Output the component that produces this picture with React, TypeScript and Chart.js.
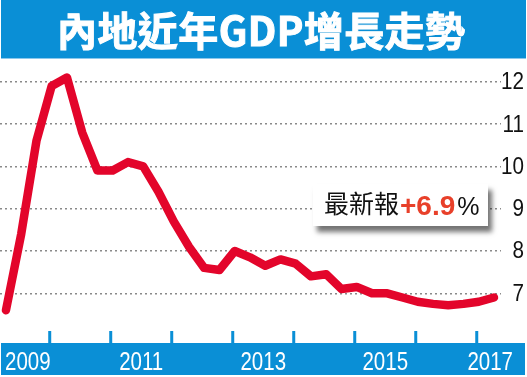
import { useEffect, useRef } from 'react';
import { Chart, registerables } from 'chart.js';

Chart.register(...registerables);

const TITLE = '內地近年GDP增長走勢';
const quarters = [
  '2009Q1', '2009Q2', '2009Q3', '2009Q4',
  '2010Q1', '2010Q2', '2010Q3', '2010Q4',
  '2011Q1', '2011Q2', '2011Q3', '2011Q4',
  '2012Q1', '2012Q2', '2012Q3', '2012Q4',
  '2013Q1', '2013Q2', '2013Q3', '2013Q4',
  '2014Q1', '2014Q2', '2014Q3', '2014Q4',
  '2015Q1', '2015Q2', '2015Q3', '2015Q4',
  '2016Q1', '2016Q2', '2016Q3', '2016Q4',
  '2017Q1',
];
const growth = [
  6.6, 8.4, 10.6, 11.9,
  12.1, 10.8, 9.9, 9.9,
  10.1, 10.0, 9.4, 8.7,
  8.1, 7.6, 7.55, 8.0,
  7.85, 7.65, 7.8, 7.7,
  7.4, 7.45, 7.1, 7.15,
  7.0, 7.0, 6.9, 6.8,
  6.75, 6.72, 6.75, 6.8,
  6.9,
];
const yTicks = [7, 8, 9, 10, 11, 12];
const yearTickYears = ['2009', '2010', '2011', '2012', '2013', '2014', '2015', '2016'];
const yearLabels = ['2009', '2011', '2013', '2015', '2017'];
const noteLabel = '最新報';
const noteValue = '+6.9';
const noteUnit = '%';

const BLUE = '#0a8fd6';
const RED = '#e3052b';

function drawScaledText(ctx: CanvasRenderingContext2D, text: string, x: number, y: number, sx: number, align: CanvasTextAlign) {
  ctx.save();
  ctx.translate(x, y);
  ctx.scale(sx, 1);
  ctx.textAlign = align;
  ctx.fillText(text, 0, 0);
  ctx.restore();
}

const decorPlugin = {
  id: 'decor',
  beforeDraw(chart: any) {
    const ctx: CanvasRenderingContext2D = chart.ctx;
    const W = chart.width;
    ctx.save();
    ctx.fillStyle = '#ffffff';
    ctx.fillRect(0, 0, W, chart.height);
    // title band
    ctx.fillStyle = BLUE;
    ctx.fillRect(1, 0, W - 2, 58);
    ctx.fillStyle = '#8cc8ec';
    ctx.fillRect(1, 58, W - 2, 1);
    // title text, spread to target width
    ctx.font = 'bold 40px "Noto Sans CJK TC"';
    ctx.fillStyle = '#ffffff';
    ctx.strokeStyle = '#ffffff';
    ctx.lineWidth = 1;
    ctx.textBaseline = 'middle';
    ctx.textAlign = 'left';
    const chars = Array.from(TITLE);
    const widths = chars.map((c) => ctx.measureText(c).width);
    const natural = widths.reduce((a, b) => a + b, 0);
    const target = 408;
    const gap = (target - natural) / (chars.length - 1);
    let cx = 261 - target / 2;
    chars.forEach((c, i) => {
      ctx.fillText(c, cx, 31);
      ctx.strokeText(c, cx, 31);
      cx += widths[i] + gap;
    });
    ctx.restore();
  },
  afterDatasetsDraw(chart: any) {
    const ctx: CanvasRenderingContext2D = chart.ctx;
    const xs = chart.scales.x;
    const ys = chart.scales.y;
    const W = chart.width;
    ctx.save();
    // bottom band
    ctx.fillStyle = BLUE;
    ctx.fillRect(1, 343, W - 3, 32);
    // year ticks (at each year's last quarter)
    yearTickYears.forEach((yr) => {
      const idx = quarters.indexOf(yr + 'Q4') - 0.13;
      const px = xs.getPixelForValue(idx);
      ctx.fillRect(px - 1.5, 331, 3, 12);
    });
    // year labels, centred on the year span
    ctx.fillStyle = '#ffffff';
    ctx.font = '25px "Liberation Sans"';
    ctx.textBaseline = 'alphabetic';
    const sx = 0.82;
    yearLabels.forEach((yr) => {
      const idx = quarters.indexOf(yr + 'Q4');
      const centerIdx = (idx >= 0 ? idx : quarters.indexOf(yr + 'Q1') + 3) - 0.13 - 2;
      let px = xs.getPixelForValue(centerIdx);
      const half = (ctx.measureText(yr).width * sx) / 2;
      px = Math.max(5 + half, Math.min(513 - half, px));
      drawScaledText(ctx, yr, px, 370, sx, 'center');
    });
    // y labels
    ctx.fillStyle = '#111111';
    ctx.font = '24px "Liberation Sans"';
    yTicks.forEach((v) => {
      const py = ys.getPixelForValue(v);
      drawScaledText(ctx, String(v), 524, py + 7.5, 0.86, 'right');
    });
    // annotation box
    ctx.save();
    ctx.shadowColor = 'rgba(0,0,0,0.55)';
    ctx.shadowBlur = 5;
    ctx.shadowOffsetX = 4;
    ctx.shadowOffsetY = 6;
    ctx.fillStyle = '#ffffff';
    ctx.fillRect(313, 184, 175, 42);
    ctx.restore();
    ctx.textAlign = 'left';
    ctx.textBaseline = 'alphabetic';
    ctx.fillStyle = '#111111';
    ctx.font = '25px "Noto Sans CJK TC"';
    ctx.fillText(noteLabel, 324, 213);
    ctx.fillStyle = '#e8402a';
    ctx.font = 'bold 28px "Liberation Sans"';
    ctx.fillText(noteValue, 400, 215);
    const vw = ctx.measureText(noteValue).width;
    ctx.fillStyle = '#111111';
    ctx.font = '25px "Liberation Sans"';
    ctx.fillText(noteUnit, 400 + vw + 2, 215);
    ctx.restore();
  },
};

export default function App() {
  const ref = useRef<HTMLCanvasElement | null>(null);
  useEffect(() => {
    if (!ref.current) return;
    const chart = new Chart(ref.current, {
      type: 'line',
      data: {
        datasets: [
          {
            data: growth.map((v, i) => ({ x: i, y: v })),
            borderColor: RED,
            borderWidth: 8.5,
            pointRadius: 0,
            borderJoinStyle: 'round',
            borderCapStyle: 'round',
            tension: 0,
            fill: false,
            clip: false as any,
          },
        ],
      },
      options: {
        animation: false,
        responsive: false,
        maintainAspectRatio: false,
        layout: { padding: { top: 60, bottom: 46, left: 0, right: 0 } },
        plugins: { legend: { display: false }, tooltip: { enabled: false }, title: { display: false } },
        scales: {
          x: { type: 'linear', min: -0.39, max: 32.46, display: false },
          y: {
            position: 'right',
            min: 6.109,
            max: 12.513,
            afterBuildTicks: (s: any) => {
              s.ticks = yTicks.map((v) => ({ value: v }));
            },
            afterFit: (s: any) => {
              s.width = 26;
            },
            ticks: { display: false },
            grid: { color: '#8a8a8a', lineWidth: 1.5, drawTicks: false },
            border: { display: false, dash: [2, 3] },
          },
        },
      },
      plugins: [decorPlugin],
    });
    return () => chart.destroy();
  }, []);
  return (
    <div style={{ position: 'fixed', left: 0, top: 0, width: 527, height: 377 }}>
      <canvas ref={ref} width={527} height={377} style={{ display: 'block', width: 527, height: 377 }} />
    </div>
  );
}
